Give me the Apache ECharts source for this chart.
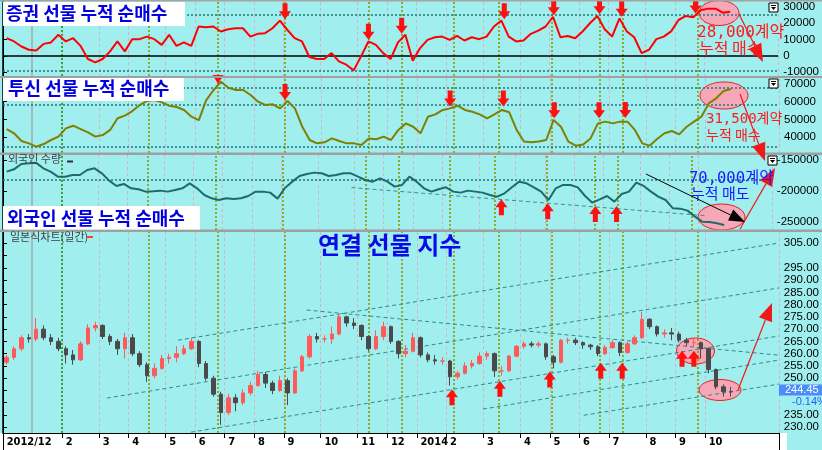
<!DOCTYPE html>
<html><head><meta charset="utf-8">
<script src="https://cdn.jsdelivr.net/npm/echarts@6/dist/echarts.min.js"></script>
<style>html,body{margin:0;padding:0;background:#A0EEEE}#c{width:822px;height:450px}</style>
</head><body><div id="c"></div>
<script>
// ---------- axis / tick labels ----------
const N_WEEKS = 105; // weekly categories (Dec 2012 .. Nov 2014, last weeks empty)
const monthTickIdx  = [0, 8, 13, 17, 22, 26, 30, 34, 38, 43, 48, 52, 56, 60, 65, 70, 74, 78, 82, 87, 91, 95];
const monthTickText = ['2012/12','2','3','4','5','6','7','8','9','10','11','12','2014','2','3','4','5','6','7','8','9','10'];
const p1Ticks = [-10000, 0, 10000, 20000, 30000];
const p2Ticks = [40000, 50000, 60000, 70000];
const p3Ticks = [-250000, -200000, -150000];
const p4Ticks = [230,235,240,245,250,255,260,265,270,275,280,285,290,295,300,305];
const p4Labels = [230,235,250,255,260,265,270,275,280,285,290,295,305];

// ---------- series values (weekly) ----------
const securities = [10800,8800,5700,3700,3300,7300,8200,12900,8800,10800,
  6100,-2000,-4100,-2000,2700,8800,2700,10200,10200,11800,
  10200,6700,12900,6100,8200,6100,18000,17600,18000,14900,
  16300,16900,16900,11800,13500,13900,16900,21600,16000,10800,
  8800,-800,-2000,-2000,1600,-3500,-5500,-9000,-400,8800,
  6700,1600,-2000,8200,12900,-3000,4700,9800,11400,11800,
  9800,12200,9400,11400,10200,11800,18000,21600,11800,8800,
  9400,13500,15500,18000,24000,11400,12200,10800,14900,20000,
  24500,16300,11800,23000,14900,11400,1600,3700,10200,11800,
  15000,22000,24500,23700,28000,29000,29000,26500,27100];
const trust = [44500,42100,37700,36400,34500,36000,38300,40200,44900,46400,
  44500,42600,40200,41100,44000,50600,52100,54700,58100,60400,
  60900,59600,57700,57000,55300,51500,49600,60900,66600,71300,
  67900,66600,66600,63800,60000,58100,58500,56200,60400,56200,
  45800,38300,36400,37000,39200,37700,36400,36400,35500,39200,
  38700,40200,38300,44000,47700,45800,42100,51500,52800,55300,
  56200,57700,55300,54300,52800,50600,52800,55300,54000,44000,
  37400,37000,37400,38300,49600,45800,37400,35100,35800,39200,
  47700,48700,47700,48700,48700,44000,36400,35100,38900,42100,
  43400,41500,45800,48700,51500,59100,61900,66000,67200];
const foreign = [-168700,-165000,-156400,-155400,-154300,-163400,-168700,-176800,-176800,-174100,
  -174100,-166100,-163400,-171400,-183200,-191700,-188500,-195500,-197100,-200800,
  -200300,-199200,-200800,-198200,-195500,-187500,-195500,-206200,-211500,-214200,
  -211500,-212600,-211500,-207800,-200800,-200800,-202400,-212000,-195000,-184800,
  -175700,-172500,-170300,-171400,-175700,-174100,-171400,-171400,-176800,-182100,
  -184800,-179400,-184800,-192800,-190100,-176800,-184800,-195500,-200800,-197100,
  -193900,-200800,-202400,-199200,-200800,-202400,-206200,-208900,-203500,-193900,
  -184800,-187500,-193900,-200800,-214200,-195500,-190100,-190100,-193900,-207800,
  -218500,-213200,-207800,-216900,-204600,-200800,-186400,-191700,-200800,-208900,
  -214200,-227600,-228100,-231300,-240900,-249000,-249500,-251700,-254300];
const futOpen = [256.5,258.5,262,266.5,266,270,266.5,265,262,259.5,
  257.5,264,270.5,271.5,267,265,262,266.5,260,255.5,
  251,254,258,258.5,260,262,265,256,250,243.5,
  236,242,240,244,247,251.5,248,245,249,244,
  253,258.7,267,266,266,268,275,272.5,271.5,267,
  262,267,271,265,260,261,266.5,259.5,257.5,257,
  257,250.6,252,255,256,259,260,253,253,259,
  263,264,263.5,264,258.7,256.5,265.5,265.5,264.5,263.5,
  262.8,260,262.5,264.5,260.5,264,266.5,274,271,268,
  268.5,268,265.5,264.5,264.5,262,253.5,246.5,244.5];
const futClose = [258.5,262,266.5,266,270,266.5,265,262,259.5,257.5,
  264,270.5,271.5,267,265,262,266.5,260,255.5,251,
  254,258,258.5,260,262,265,256,250,243.5,236,
  242,240,244,247,251.5,248,245,249,244,253,
  258.7,267,266,266,268,275,272.5,271.5,267,262,
  267,271,265,260,261,266.5,259.5,257.5,257,257,
  250.6,252,255,256,259,260,253,253,259,263,
  264,263.5,264,258.7,256.5,265.5,265.5,264.5,263.5,262.8,
  260,262.5,264.5,260.5,264,266.5,274,271,268,268.5,
  268,265.5,264.5,264.5,262,253.5,246.5,244.5,244.45];
const futLow = [255.5,257.5,261,264.5,265,265.5,263.5,261,256,255.5,
  257,263.5,269,266,263.5,259.5,258,259,254.5,248.5,
  250,253.5,256,256.5,259.5,261.5,254.5,249,242.5,231,
  235,236.5,239,243,246.5,246,243.5,244.5,239,243.5,
  252.5,258,264.5,264.5,264,267.5,271,270,265.5,261,
  261.5,265.5,264,258,258.5,260.5,258.5,256.5,255.5,255.5,
  247,249.5,251.5,254,255.5,257.5,250.5,251,252.5,258.5,
  262,262.5,262.5,257.5,254,256,264,263.5,262,261.5,
  259,259.5,262,259,260,263.5,266,270,267,266.5,
  265.5,264.5,263,263,258,252,245.5,242.5,242.5];
const futHigh = [259.5,263,267.5,268,274.5,271.5,268,266.5,263,261.5,
  265,272,273,272,268,266,268.5,268,261,256.5,
  256,259.5,260,263,263.5,266.5,265.5,257,251,244.5,
  243.5,243.5,245.5,248.5,253,252.5,249,251,250,254,
  259.5,268,268.5,267.5,271,276,275.5,274.5,272,267.5,
  269.5,273,271.5,265.5,263.5,268.5,267,260.5,259.5,258.5,
  257.5,253,256.5,257.5,260.5,261,260.5,255,259.5,263.5,
  265,265,265,264.5,259.5,266,266.5,266.5,265,264,
  263.5,263.5,265.5,265,265,267.5,277,274.5,271.5,270,
  270.5,269,266.5,266.5,265,262.5,254,247.5,246.5];

// ---------- annotation positions in data units (week position, value) ----------
const oliveWeeks = [19.76, 29.1, 38.16, 49.53, 54.0, 61.03, 67.12, 74.29, 80.78, 83.9, 94.05];
const greenWeek = 7.98;
const yearWeek = 3.92;
const p1Down = [[38.2,22500],[49.5,9800],[54.0,13500],[67.9,22500],[74.6,25000],[80.8,25500],[83.8,24000],[93.8,26000]];
const p2Down = [[19.6,60000],[38.16,61000],[60.5,57200],[67.7,57200],[74.6,50600],[80.65,50600],[84.2,50800]];
const p2Tri = [29.1, 70000];
const p3Up = [[68.07,-213100],[74.4,-219500],[80.9,-223800],[83.8,-223800]];
const p4Up = [[60.76,245.5],[67.25,249],[74.0,252.7],[80.9,256.3],[83.8,256.3],[91.9,261.2],[93.5,261.2]];
const p1Levels = [25100, -9200];
const p2Levels = [67600, 58100, 34400];
const p3Levels = [-181300];
const p3Trend = [[47.6,-194300],[96,-239500]];
const p4Trends = [
  [[23.68,265.5],[105,305.1]],
  [[14.07,241.9],[105,286.8]],
  [[25.44,228.0],[105,267.2]],
  [[41.1,277.8],[105,259.4]],
  [[64.95,237.4],[105,257.4]],
  [[78.6,234.9],[105,247.6]]
];

// ---------- build ----------
const weeks = Array.from({length:N_WEEKS}, (_, i) => 'W' + i);
const candles = futOpen.map((o, i) => [o, futClose[i], futLow[i], futHigh[i]]);
const monthSet = new Set(monthTickIdx.slice(1));
const tickSet = new Set(monthTickIdx);

const grids = [
  {left:3, right:43, top:2, height:74},
  {left:3, right:43, top:78, height:75},
  {left:3, right:43, top:155, height:75},
  {left:3, right:43, top:232, height:201}
];
const yRanges = [[-12460,33077],[30940,73400],[-262400,-142000],[227.66,309.6]];
const tickVals = [p1Ticks, p2Ticks, p3Ticks, p4Ticks];
const labelVals = [p1Ticks, p2Ticks, p3Ticks, p4Labels];

const FONT_AX = '"Liberation Sans", Arial, sans-serif';
const xAxes = [], yAxes = [];
for (let k = 0; k < 4; k++) {
  xAxes.push({
    type:'category', gridIndex:k, data:weeks, boundaryGap:true,
    axisLine:{show:k===3, onZero:false, lineStyle:{color:'#000', width:1}},
    axisTick:{show:k===3, interval:(i)=>tickSet.has(i), length:5, lineStyle:{color:'#000'}},
    axisLabel:{show:k===3, interval:(i)=>tickSet.has(i),
      formatter:(v, i)=>{const j = monthTickIdx.indexOf(i); return j>=0 ? monthTickText[j] : '';},
      align:'left', margin:4, color:'#000', fontSize:11, fontWeight:'bold',
      fontFamily:'"Liberation Sans Narrow", "DejaVu Sans Condensed", Arial, sans-serif'},
    splitLine:{show:true, interval:(i)=>monthSet.has(i), lineStyle:{color:'#D9AFC0', type:[3,3], width:1}}
  });
}
for (let k = 0; k < 4; k++) {
  xAxes.push({type:'value', gridIndex:k, min:0, max:N_WEEKS, show:false});
}
// year separator on the date axis
xAxes.push({type:'category', gridIndex:3, data:weeks, boundaryGap:true, position:'bottom',
  axisLine:{show:false}, axisLabel:{show:false}, splitLine:{show:false},
  axisTick:{show:true, interval:(i)=>i===56, length:17, lineStyle:{color:'#000', width:1}}});

for (let k = 0; k < 4; k++) {
  const fmt = k === 3 ? (v)=>v.toFixed(2) : (v)=>String(v);
  yAxes.push({
    type:'value', gridIndex:k, position:'right', min:yRanges[k][0], max:yRanges[k][1],
    axisLine:{show:true, lineStyle:{color:'#000', width:1.5}},
    axisTick:{show:true, length:4, customValues:tickVals[k], lineStyle:{color:'#000'}},
    axisLabel:{show:true, customValues:labelVals[k], formatter:fmt, margin:5, color:'#000',
      fontSize:11.5, fontFamily:FONT_AX},
    splitLine:{show:false}
  });
}
for (let k = 0; k < 4; k++) {
  yAxes.push({
    type:'value', gridIndex:k, position:'left', min:yRanges[k][0], max:yRanges[k][1],
    axisLine:{show:true, lineStyle:{color:'#000', width:1}},
    axisTick:{show:true, inside:true, length:3, customValues:tickVals[k], lineStyle:{color:'#000'}},
    axisLabel:{show:false}, splitLine:{show:false}
  });
}

const ARROW_DOWN = 'path://M3.5,0 L8.5,0 L8.5,8 L12,8 L6,16 L0,8 L3.5,8 Z';
const ARROW_UP = 'path://M6,0 L12,8 L8.5,8 L8.5,16 L3.5,16 L3.5,8 L0,8 Z';

function verticalMarks() {
  const d = oliveWeeks.map(w => ({xAxis:w, lineStyle:{color:'#8E9A00', type:[2,2], width:1.6}}));
  d.push({xAxis:greenWeek, lineStyle:{color:'#10A010', type:[2,2], width:1.6}});
  d.push({xAxis:yearWeek, lineStyle:{color:'#A9A9A9', type:'solid', width:1.5}});
  return d;
}
function hLevels(levels) {
  return levels.map(v => ({yAxis:v, lineStyle:{color:'#1E7B7B', type:[2,2], width:1.5}}));
}
function helper(k, extraLines, points) {
  return {
    type:'line', xAxisIndex:4+k, yAxisIndex:k, data:[], silent:true, z:1,
    markLine:{symbol:['none','none'], silent:true, label:{show:false}, animation:false,
      data: verticalMarks().concat(extraLines)},
    markPoint:{silent:true, label:{show:false}, animation:false, data:points}
  };
}
const dnPts = (arr) => arr.map(([w,v]) => ({coord:[w,v], symbol:ARROW_DOWN, symbolSize:[12,16], symbolOffset:[0,'-50%'], itemStyle:{color:'#FF1010'}}));
const upPts = (arr) => arr.map(([w,v]) => ({coord:[w,v], symbol:ARROW_UP, symbolSize:[12,16], symbolOffset:[0,'50%'], itemStyle:{color:'#FF1010'}}));
const trendStyle = {color:'#2F8C8C', type:[4,3], width:1};

const series = [
  helper(0, hLevels(p1Levels).concat([{yAxis:0, lineStyle:{color:'#000', type:'solid', width:1.5}}]), dnPts(p1Down)),
  helper(1, hLevels(p2Levels), dnPts(p2Down).concat([{coord:p2Tri, symbol:'triangle', symbolRotate:180, symbolSize:[11,9], symbolOffset:[0,'-50%'], itemStyle:{color:'#FF1010'}}])),
  helper(2, hLevels(p3Levels).concat([[{coord:p3Trend[0], lineStyle:{color:'#3D9090', type:[4,3], width:1}}, {coord:p3Trend[1]}]]), upPts(p3Up)),
  helper(3, p4Trends.map(([a,b]) => [{coord:a, lineStyle:trendStyle}, {coord:b}]), upPts(p4Up)),
  {type:'line', name:'증권', xAxisIndex:0, yAxisIndex:0, data:securities, symbol:'none', z:5,
    lineStyle:{color:'#FF0000', width:2}},
  {type:'line', name:'투신', xAxisIndex:1, yAxisIndex:1, data:trust, symbol:'none', z:5,
    lineStyle:{color:'#7F7F00', width:2}},
  {type:'line', name:'외국인', xAxisIndex:2, yAxisIndex:2, data:foreign, symbol:'none', z:5,
    lineStyle:{color:'#1D6B6B', width:2}},
  {type:'candlestick', name:'연결선물', xAxisIndex:3, yAxisIndex:3, data:candles, z:5,
    barWidth:4, itemStyle:{color:'#FF5A5A', color0:'#4A4A4A', borderColor:'#FF5A5A', borderColor0:'#4A4A4A', borderWidth:1}}
];

// ---------- free-hand annotations (pixel space) ----------
function arrow(x1,y1,x2,y2,color,hl,hw,lw){
  const dx=x2-x1, dy=y2-y1, L=Math.hypot(dx,dy), ux=dx/L, uy=dy/L;
  const bx=x2-ux*hl, by=y2-uy*hl, px=-uy*hw/2, py=ux*hw/2;
  return [
    {type:'line', shape:{x1,y1,x2:bx,y2:by}, style:{stroke:color, lineWidth:lw}, z:60},
    {type:'polygon', shape:{points:[[x2,y2],[bx+px,by+py],[bx-px,by-py]]}, style:{fill:color}, z:60}
  ];
}
const KR = '"Noto Sans CJK KR", sans-serif';
const MONO = '"DejaVu Sans Mono", "Noto Sans CJK KR", monospace';
const txt = (x,y,text,font,fill,z) => ({type:'text', x, y, z:z||70, style:{text, font, fill, verticalAlign:'middle', align:'left'}});
const ell = (cx,cy,rx,ry) => ({type:'ellipse', shape:{cx,cy,rx,ry}, z:1, style:{fill:'#F6A8B8', stroke:'#E82020', lineWidth:1}});
const icon = (x,y) => [
  {type:'rect', shape:{x,y,width:9,height:9}, z:70, style:{fill:'#fff', stroke:'#000', lineWidth:1}},
  {type:'rect', shape:{x:x+2,y:y+2,width:5,height:1}, z:71, style:{fill:'#000'}},
  {type:'polygon', shape:{points:[[x+2,y+4],[x+7,y+4],[x+4.5,y+7]]}, z:71, style:{fill:'#000'}}
];

const graphic = [
  {type:'rect', shape:{x:0,y:433,width:787,height:17}, z:-1, style:{fill:'#fff'}},
  {type:'rect', shape:{x:0,y:0,width:822,height:1.5}, z:40, style:{fill:'#A4A4A4'}},
  {type:'rect', shape:{x:0,y:76,width:822,height:2}, z:40, style:{fill:'#A0A0A0'}},
  {type:'rect', shape:{x:0,y:152.5,width:822,height:2.5}, z:40, style:{fill:'#A0A0A0'}},
  {type:'rect', shape:{x:0,y:229.5,width:822,height:2.5}, z:40, style:{fill:'#A0A0A0'}},
  ell(719,13,20,12.5), ell(724,95.5,24,13.5), ell(721.5,217,23.5,13), ell(695.5,351,19,13), ell(720,390,21,10.5),
  ...arrow(739,14,763,62,'#F01818',18,14,1.2),
  ...arrow(740,94,765,161,'#F01818',18,14,1.2),
  ...arrow(740,229,775,168,'#F01818',18,14,1.2),
  ...arrow(738,390,772,303,'#F01818',18,14,1.2),
  ...arrow(646,174,745,222,'#000000',16,12,1),
  txt(697,32.5,'28,000계약','16px ' + MONO,'#FF1A1A'),
  txt(699,47.5,'누적 매수','16px ' + KR,'#FF1A1A'),
  txt(706,119,'31,500계약','14px ' + MONO,'#FF1A1A'),
  txt(706,135,'누적 매수','14px ' + KR,'#FF1A1A'),
  txt(689,179,'70,000계약','15.5px ' + MONO,'#1A1AFF'),
  txt(691,193.5,'누적 매도','15px ' + KR,'#1A1AFF'),
  {type:'rect', shape:{x:3,y:2,width:182,height:24}, z:80, style:{fill:'#fff'}},
  txt(6,13,'증권 선물 누적 순매수','bold 18px ' + KR,'#0000E0',81),
  {type:'rect', shape:{x:3,y:78,width:181,height:23}, z:80, style:{fill:'#fff'}},
  txt(8,88.5,'투신 선물 누적 순매수','bold 18px ' + KR,'#0000E0',81),
  {type:'rect', shape:{x:3,y:206,width:197,height:23.5}, z:80, style:{fill:'#fff'}},
  txt(7,218.5,'외국인 선물 누적 순매수','bold 18px ' + KR,'#0000E0',81),
  txt(318,245,'연결 선물 지수','bold 24px ' + KR,'#0A0AE8'),
  txt(8,159,'외국인 수량','11px ' + KR,'#404040'),
  {type:'rect', shape:{x:67,y:160.5,width:6,height:2}, z:70, style:{fill:'#303030'}},
  txt(10,236.5,'일본식차트(일간)','11px ' + KR,'#404040'),
  {type:'rect', shape:{x:87,y:236,width:6,height:2}, z:70, style:{fill:'#FF4040'}},
  {type:'rect', shape:{x:779,y:384.5,width:43,height:11}, z:70, style:{fill:'#4A8CF8'}},
  txt(785,390.2,'244.45','11px ' + FONT_AX,'#FFFFFF',71),
  txt(792,401.5,'-0.14%','11px ' + FONT_AX,'#1E5FFF'),
  ...icon(769,3), ...icon(769,79), ...icon(768,156)
];

const chart = echarts.init(document.getElementById('c'), null, {renderer:'canvas'});
chart.setOption({
  backgroundColor:'#A0EEEE',
  animation:false,
  grid:grids,
  xAxis:xAxes,
  yAxis:yAxes,
  series:series,
  graphic:graphic
});
</script>
</body></html>
